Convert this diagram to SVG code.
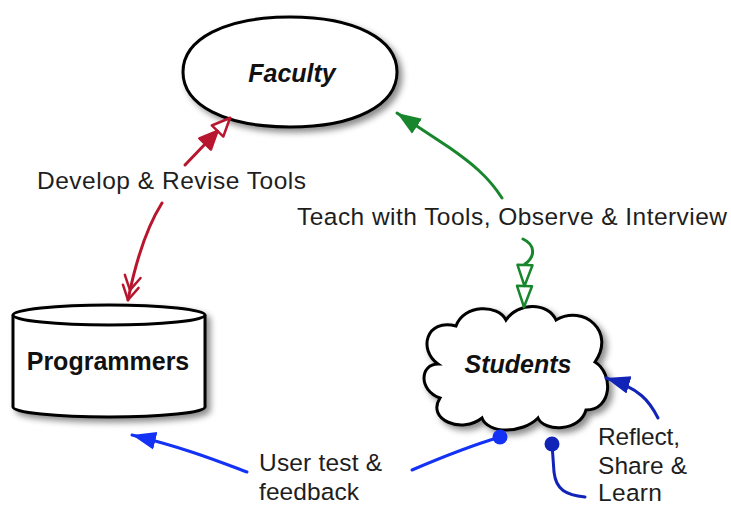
<svg xmlns="http://www.w3.org/2000/svg" width="731" height="507" viewBox="0 0 731 507">
  <style>
    .node { fill: #ffffff; stroke: #000000; stroke-width: 3; }
    .ntext { font-family: "Liberation Sans", Arial, sans-serif; font-size: 25px; font-weight: bold; fill: #111111; text-anchor: middle; }
    .it { font-style: italic; }
    .lbl { font-family: "Liberation Sans", Arial, sans-serif; font-size: 24.5px; fill: #1e1e1e; }
    .conn { fill: none; stroke-width: 3; stroke-linecap: round; }
    .red { stroke: #b8162f; }
    .green { stroke: #17862c; }
    .blue { stroke: #1432f5; }
    .navy { stroke: #1224b8; }
  </style>
  <defs>
    <filter id="shadow" x="-20%" y="-20%" width="150%" height="150%">
      <feDropShadow dx="4" dy="4" stdDeviation="3" flood-color="#000000" flood-opacity="0.45"/>
    </filter>
    <marker id="redTri" markerUnits="userSpaceOnUse" orient="auto" markerWidth="44" markerHeight="22" refX="38" refY="10" viewBox="-2 0 44 20">
      <path d="M38,10 L20,2 L20,18 Z" fill="#ffffff" stroke="#b8162f" stroke-width="2.5" stroke-linejoin="round"/>
      <path d="M20,10 L2,2 L2,18 Z" fill="#b8162f" stroke="#b8162f" stroke-width="2.5" stroke-linejoin="round"/>
    </marker>
    <marker id="redChev" markerUnits="userSpaceOnUse" orient="auto" markerWidth="30" markerHeight="22" refX="26" refY="10" viewBox="0 0 30 20">
      <path d="M12,2 L26,10 L12,18 M2,2 L16,10 L2,18" fill="none" stroke="#b8162f" stroke-width="2.5" stroke-linecap="round" stroke-linejoin="round"/>
    </marker>
    <marker id="greenFill" markerUnits="userSpaceOnUse" orient="auto" markerWidth="26" markerHeight="20" refX="24" refY="9" viewBox="0 0 26 18">
      <path d="M0,0 L24,9 L0,18 Z" fill="#17862c"/>
    </marker>
    <marker id="greenTri" markerUnits="userSpaceOnUse" orient="auto" markerWidth="46" markerHeight="20" refX="43" refY="9" viewBox="-1 0 46 18">
      <path d="M43,9 L22,1.5 L22,16.5 Z" fill="#ffffff" stroke="#17862c" stroke-width="2.5" stroke-linejoin="round"/>
      <path d="M22,9 L1,1.5 L1,16.5 Z" fill="#ffffff" stroke="#17862c" stroke-width="2.5" stroke-linejoin="round"/>
    </marker>
    <marker id="blueFill" markerUnits="userSpaceOnUse" orient="auto" markerWidth="26" markerHeight="20" refX="24" refY="9" viewBox="0 0 26 18">
      <path d="M0,0 L24,9 L0,18 Z" fill="#1432f5"/>
    </marker>
    <marker id="navyFill" markerUnits="userSpaceOnUse" orient="auto" markerWidth="26" markerHeight="20" refX="24" refY="9" viewBox="0 0 26 18">
      <path d="M0,0 L24,9 L0,18 Z" fill="#1224b8"/>
    </marker>
  </defs>

  <rect x="0" y="0" width="731" height="507" fill="#ffffff"/>

  <g id="faculty">
    <path class="node" filter="url(#shadow)" d="M397,72 C397,105 355,127 290,127 C225,127 183,105 183,72 C183,39 225,17 290,17 C355,17 397,39 397,72 Z"/>
    <text class="ntext it" x="292" y="82">Faculty</text>
  </g>

  <g id="programmers">
    <path class="node" filter="url(#shadow)" d="M13,315 L13,407 A96,10 0 0 0 205,407 L205,315 A96,10 0 0 0 13,315 Z"/>
    <path class="node" d="M13,315 A96,10 0 0 0 205,315" fill="none"/>
    <text class="ntext" x="108" y="370">Programmers</text>
  </g>

  <g id="students">
    <path class="node" filter="url(#shadow)" d="M438,364 C418,350 426,318 456,326 C464,304 498,304 506,320 C518,302 548,302 556,320 C584,304 616,332 595,362 C614,374 612,410 586,410 C580,432 544,432 538,418 C522,434 488,434 482,418 C462,434 426,420 440,398 C418,390 420,364 438,364 Z"/>
    <text class="ntext it" x="518" y="373">Students</text>
  </g>

  <g id="connectors">
    <path class="conn red" d="M185,165 L230,118" marker-end="url(#redTri)"/>
    <path class="conn red" d="M162,203 C150,222 138,250 128,300" marker-end="url(#redChev)"/>
    <path class="conn green" d="M502,198 C488,176 470,162 450,148 L397,113" marker-end="url(#greenFill)"/>
    <path class="conn green" d="M523,239 C536,245 535,257 525,264 L524,307" marker-end="url(#greenTri)"/>
    <path class="conn blue" d="M500,437 C470,446 440,458 412,470"/>
    <circle cx="500" cy="437" r="7.5" fill="#1432f5"/>
    <path class="conn blue" d="M247,472 C215,460 185,448 132,435" marker-end="url(#blueFill)"/>
    <path class="conn navy" d="M552,444 L554,472 C556,490 566,495 585,497"/>
    <circle cx="552" cy="444" r="7.5" fill="#1224b8"/>
    <path class="conn navy" d="M658,418 C650,402 640,388 606,378" marker-end="url(#navyFill)"/>
  </g>

  <g id="labels">
    <text class="lbl" x="37" y="189" textLength="269" lengthAdjust="spacing">Develop &amp; Revise Tools</text>
    <text class="lbl" x="297" y="225" textLength="430" lengthAdjust="spacing">Teach with Tools, Observe &amp; Interview</text>
    <text class="lbl" x="259" y="471" textLength="123" lengthAdjust="spacing">User test &amp;</text>
    <text class="lbl" x="259" y="500" textLength="100" lengthAdjust="spacing">feedback</text>
    <text class="lbl" x="598" y="445" textLength="82" lengthAdjust="spacing">Reflect,</text>
    <text class="lbl" x="598" y="474" textLength="89" lengthAdjust="spacing">Share &amp;</text>
    <text class="lbl" x="598" y="501" textLength="64" lengthAdjust="spacing">Learn</text>
  </g>
</svg>
